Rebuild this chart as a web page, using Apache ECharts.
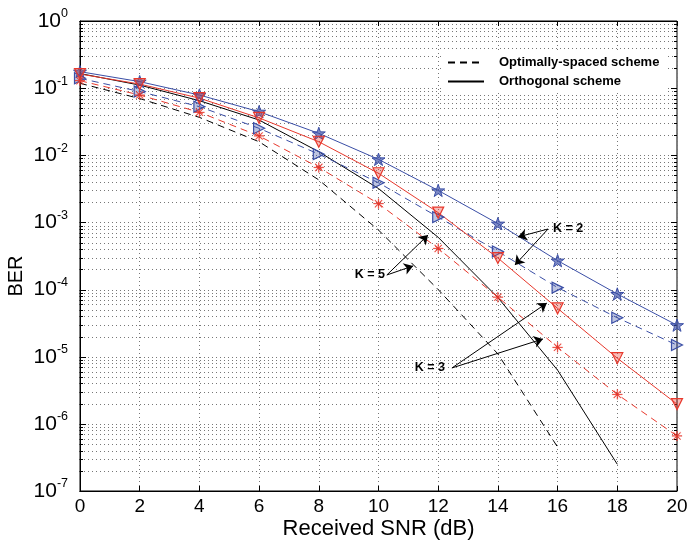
<!DOCTYPE html>
<html><head><meta charset="utf-8">
<script src="https://cdn.jsdelivr.net/npm/echarts/dist/echarts.min.js"></script>
<style>html,body{margin:0;padding:0;background:#fff}#c{width:687px;height:545px}</style>
</head><body><div id="c"></div>
<script>
// ---- data ----
const snr = [0, 2, 4, 6, 8, 10, 12, 14, 16, 18, 20];
const k2Orth = [0.176, 0.125, 0.079, 0.0446, 0.0212, 0.0087, 0.0030, 0.00096, 2.7e-4, 8.6e-5, 2.95e-5];
const k2Opt  = [0.14, 0.089, 0.053, 0.0252, 0.0104, 0.0039, 0.0012, 3.7e-4, 1.07e-4, 3.8e-5, 1.49e-5];
const k3Orth = [0.162, 0.115, 0.071, 0.036, 0.0159, 0.0054, 0.0014, 2.95e-4, 5.25e-5, 9.5e-6, 1.97e-6];
const k3Opt  = [0.129, 0.079, 0.0437, 0.0194, 0.0066, 0.0019, 4.1e-4, 7.7e-5, 1.38e-5, 2.75e-6, 6.6e-7];
const k5Orth = [0.165, 0.111, 0.065, 0.0335, 0.0113, 0.0032, 6.0e-4, 7.6e-5, 6.3e-6, 2.5e-7, null];
const k5Opt  = [0.118, 0.070, 0.0367, 0.0159, 0.0043, 7.7e-4, 1.0e-4, 1.1e-5, 4.5e-7, null, null];
const legendNames = ['Optimally-spaced scheme', 'Orthogonal scheme'];
const xTicks = [0, 2, 4, 6, 8, 10, 12, 14, 16, 18, 20];
const yDecades = [0, -1, -2, -3, -4, -5, -6, -7];
const annotLabels = ['K = 2', 'K = 5', 'K = 3'];
const annotTails = [[15.68, 7.98e-4], [10.28, 1.65e-4], [12.46, 6.8e-6]];
const annotHeads = [
  [[14.67, 6.07e-4], [14.57, 2.32e-4]],
  [[11.66, 6.5e-4], [11.16, 2.25e-4]],
  [[15.64, 6.3e-5], [15.51, 1.84e-5]]
];

// ---- styles ----
const BLUE = '#3a4ea6', RED = '#e8382c';
const FONT = 'Liberation Sans, Arial, Helvetica, sans-serif';
function pentagram() {
  let d = '';
  for (let i = 0; i < 10; i++) {
    const a = (-90 + i * 36) * Math.PI / 180;
    const r = i % 2 === 0 ? 10 : 3.9;
    d += (i === 0 ? 'M' : 'L') + (r * Math.cos(a)).toFixed(3) + ',' + (r * Math.sin(a)).toFixed(3) + ' ';
  }
  return 'path://' + d + 'Z';
}
function asterisk() {
  let d = '';
  const L = 10, W = 0.75;
  [0, 45, 90, 135].forEach(deg => {
    const a = deg * Math.PI / 180, c = Math.cos(a), s = Math.sin(a);
    const pts = [[-L, -W], [L, -W], [L, W], [-L, W]].map(([x, y]) => [x * c - y * s, x * s + y * c]);
    d += 'M' + pts.map(p => p[0].toFixed(3) + ',' + p[1].toFixed(3)).join(' L') + ' Z ';
  });
  return 'path://' + d;
}
const pairs = arr => snr.map((x, i) => [x, arr[i]]).filter(p => p[1] != null);

const gridVals = [];
yDecades.forEach(e => {
  gridVals.push([0, Math.pow(10, e), 1]);
  if (e > -7) for (let m = 2; m <= 9; m++) gridVals.push([0, m * Math.pow(10, e - 1), 0]);
});

function colored(name, arr, color, dashed, symbol, rotate, size, fillAlpha, bw) {
  return {
    name, type: 'line', data: pairs(arr), z: 3,
    symbol, symbolRotate: rotate, symbolSize: size, symbolKeepAspect: true, showSymbol: true,
    lineStyle: { color, width: 1, type: dashed ? [7, 5] : 'solid' },
    itemStyle: { color: color + fillAlpha, borderColor: color, borderWidth: bw },
    emphasis: { disabled: true }, animation: false
  };
}

const chart = echarts.init(document.getElementById('c'));
chart.setOption({
  animation: false,
  backgroundColor: '#fff',
  grid: { left: 80, right: 10, top: 21, bottom: 54, containLabel: false, outerBoundsMode: 'none', show: true, borderColor: '#000', borderWidth: 1, backgroundColor: 'transparent' },
  legend: {
    data: legendNames, orient: 'vertical', left: 441, top: 51, itemWidth: 36, itemHeight: 12, itemGap: 6,
    backgroundColor: '#fff', padding: [5, 8, 5, 6],
    itemStyle: { opacity: 0 },
    textStyle: { fontFamily: FONT, fontWeight: 'bold', fontSize: 13, color: '#000', padding: [0, 0, 0, 10] }
  },
  xAxis: [{
    type: 'value', min: 0, max: 20, interval: 2,
    name: 'Received SNR (dB)', nameLocation: 'middle', nameGap: 27, nameMoveOverlap: false,
    nameTextStyle: { fontFamily: FONT, fontSize: 22, color: '#000' },
    axisLine: { show: true, lineStyle: { color: '#000' } },
    axisTick: { inside: true, length: 5, lineStyle: { color: '#000' } },
    axisLabel: { fontFamily: FONT, fontSize: 19, color: '#000', margin: 6 },
    splitLine: { show: true, lineStyle: { color: '#777', width: 1, type: [1, 3] } }
  }, {
    type: 'value', min: 0, max: 20, interval: 2, position: 'top',
    axisLine: { show: true, lineStyle: { color: '#000' } },
    axisTick: { inside: true, length: 5, lineStyle: { color: '#000' } },
    axisLabel: { show: false }, splitLine: { show: false }
  }],
  yAxis: {
    type: 'log', logBase: 10, min: 1e-7, max: 1, interval: 1,
    name: 'BER', nameLocation: 'middle', nameGap: 54, nameMoveOverlap: false,
    nameTextStyle: { fontFamily: FONT, fontSize: 20, color: '#000', padding: [0, 0, 0, -40] },
    axisLine: { show: true, lineStyle: { color: '#000' } },
    axisTick: { show: false },
    splitLine: { show: false },
    axisLabel: {
      margin: 12,
      formatter: v => { const e = Math.round(Math.log10(v)); return '{b|10}{s|' + (e < 0 ? '-' + (-e) : e) + '}'; },
      rich: {
        b: { fontFamily: FONT, fontSize: 21, color: '#000' },
        s: { fontFamily: FONT, fontSize: 12.5, color: '#000', padding: [0, 0, 14, 0] }
      }
    }
  },
  series: [
    {
      type: 'custom', silent: true, z: 1, data: gridVals, clip: false,
      renderItem: (params, api) => {
        const v = api.value(1);
        const p0 = api.coord([0, v]), p1 = api.coord([20, v]);
        const y = Math.round(p0[1]) + 0.5;
        const tl = api.value(2) === 1 ? 6 : 3;
        const kids = [
          { type: 'line', shape: { x1: p0[0] - 0.5, y1: y, x2: p0[0] + tl, y2: y }, style: { stroke: '#000', lineWidth: 1 } },
          { type: 'line', shape: { x1: p1[0] - tl, y1: y, x2: p1[0], y2: y }, style: { stroke: '#000', lineWidth: 1 } }
        ];
        if (v < 0.999 && v > 1.01e-7) kids.unshift({ type: 'line', shape: { x1: p0[0], y1: y, x2: p1[0], y2: y }, style: { stroke: '#777', lineWidth: 1, lineDash: [1, 3] } });
        return { type: 'group', children: kids };
      }
    },
    {
      name: legendNames[0], type: 'line', data: pairs(k5Opt), symbol: 'none', z: 2,
      lineStyle: { color: '#000', width: 1, type: [7, 5] }, itemStyle: { color: '#000' }
    },
    {
      name: legendNames[1], type: 'line', data: pairs(k5Orth), symbol: 'none', z: 2,
      lineStyle: { color: '#000', width: 1, type: 'solid' }, itemStyle: { color: '#000' }
    },
    colored('K=2 orthogonal', k2Orth, BLUE, false, pentagram(), 0, 13, 'aa', 1),
    colored('K=2 optimally-spaced', k2Opt, BLUE, true, 'triangle', -90, 11, '55', 1.2),
    colored('K=3 orthogonal', k3Orth, RED, false, 'triangle', 180, 11, '55', 1.2),
    colored('K=3 optimally-spaced', k3Opt, RED, true, asterisk(), 0, 10, 'ff', 0.3),
    {
      name: 'annotations', type: 'line', data: [], z: 5, silent: true,
      markLine: {
        silent: true, animation: false, symbolSize: 9,
        lineStyle: { color: '#000', width: 1, type: 'solid' },
        label: { show: false },
        data: annotHeads.flatMap((hs, i) => hs.map(h => [
          { coord: annotTails[i], symbol: 'none' },
          { coord: h, symbol: 'arrow' }
        ]))
      },
      markPoint: {
        silent: true, animation: false, symbol: 'circle', symbolSize: 0,
        data: annotLabels.map((t, i) => ({
          coord: annotTails[i], value: t,
          label: {
            show: true, formatter: t, position: i === 0 ? 'right' : 'left', distance: i === 0 ? 5 : (i === 1 ? 2 : 7),
            fontFamily: FONT, fontWeight: 'bold', fontSize: 12.5, color: '#000'
          }
        }))
      }
    }
  ]
});
</script>
</body></html>
